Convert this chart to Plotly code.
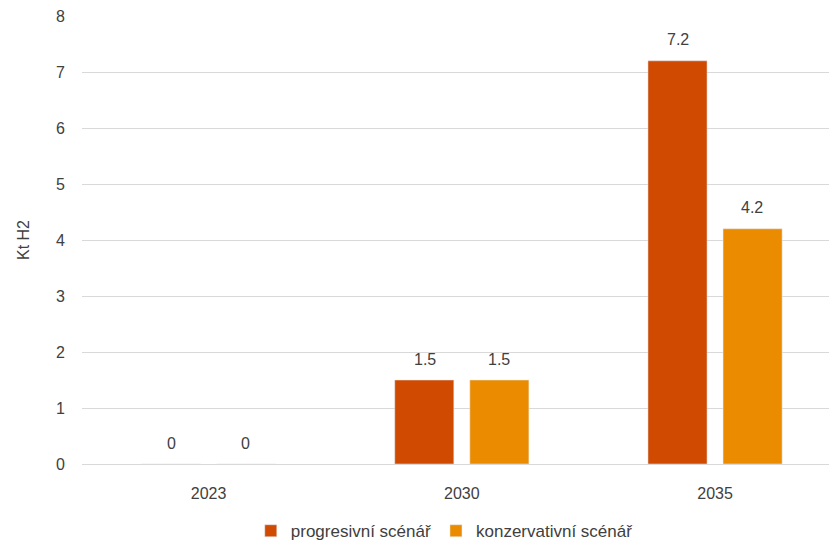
import plotly.graph_objects as go

years = ["2023", "2030", "2035"]
progresivni = [0, 1.5, 7.2]
konzervativni = [0, 1.5, 4.2]
y_ticks = [0, 1, 2, 3, 4, 5, 6, 7, 8]

font_family = "Liberation Sans, Arial, sans-serif"
text_color = "#404040"
series = [
    ("progresivní scénář", progresivni, "#D04A02", -37),
    ("konzervativní scénář", konzervativni, "#EB8C00", 37),
]

fig = go.Figure()
for name, values, color, _ in series:
    fig.add_trace(go.Bar(name=name, x=years, y=values, marker_color=color))

# value labels above each bar (category axis -> annotation x is the category index)
for _, values, _, shift in series:
    for idx, v in enumerate(values):
        fig.add_annotation(x=idx, y=v, xref="x", yref="y", text=f"{v:g}",
                           showarrow=False, xshift=shift, yshift=21,
                           yanchor="middle",
                           font=dict(size=16, color=text_color, family=font_family))

fig.update_layout(
    width=829, height=542,
    margin=dict(l=82, r=0, t=16, b=78, autoexpand=False),
    plot_bgcolor="white", paper_bgcolor="white",
    font=dict(family=font_family, size=16, color=text_color),
    barmode="group", bargap=0.407, bargroupgap=0.213,
    showlegend=True,
    legend=dict(orientation="h", x=0.485, xanchor="center", y=-0.15, yanchor="middle",
                font=dict(size=17, color=text_color), itemwidth=30,
                traceorder="normal"),
    xaxis=dict(range=[-0.5, 2.45], showgrid=False, showline=False, ticks="",
               ticklabelstandoff=18, tickfont=dict(size=16, color=text_color)),
    yaxis=dict(range=[0, 8], tickvals=y_ticks, showgrid=True, gridcolor="#D9D9D9",
               gridwidth=1, zeroline=True, zerolinecolor="#D9D9D9", zerolinewidth=1,
               showline=False, ticks="", ticklabelstandoff=16,
               tickfont=dict(size=16, color=text_color),
               title=dict(text="Kt H2", font=dict(size=16, color=text_color), standoff=22)),
)

fig.write_html("out.html")
